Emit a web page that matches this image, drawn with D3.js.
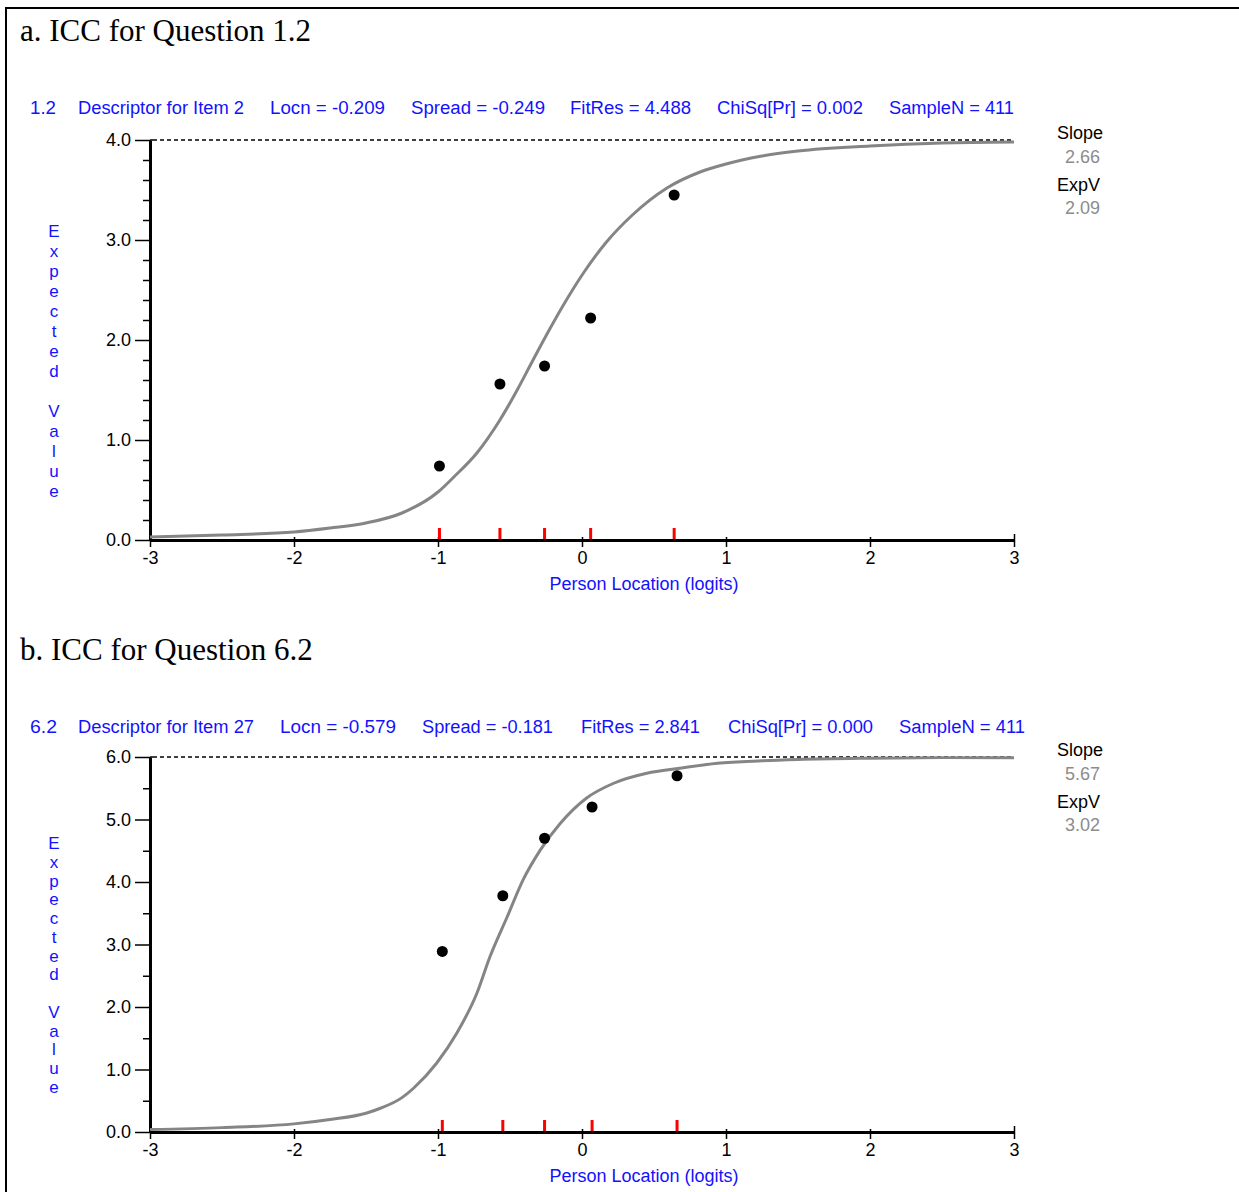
<!DOCTYPE html>
<html>
<head>
<meta charset="utf-8">
<script src="https://cdn.jsdelivr.net/npm/d3@7/dist/d3.min.js"></script>
<style>
  html, body { margin: 0; padding: 0; background: #fff; }
  svg { display: block; }
</style>
</head>
<body>
<svg id="chart" width="1239" height="1192"></svg>
<script>
// ---- shared x axis (person location, logits) ----
const xTicks = [-3, -2, -1, 0, 1, 2, 3];

// ---- panel a: item 1.2 ----
const aTitle = "a. ICC for Question 1.2";
const aHeader = ["1.2", "Descriptor for Item 2", "Locn = -0.209", "Spread = -0.249",
                 "FitRes = 4.488", "ChiSq[Pr] = 0.002", "SampleN = 411"];
const aYTicks = [0, 1, 2, 3, 4];
const aYMax = 4;
const aMinorStep = 0.2;
const aCurveX = [-3, -2.5, -2, -1.75, -1.5, -1.25, -1, -0.89, -0.73, -0.57, -0.45, -0.34,
                 -0.22, -0.1, 0.01, 0.17, 0.35, 0.59, 0.82, 1, 1.25, 1.5, 2, 2.5, 3];
const aCurveY = [0.03, 0.05, 0.08, 0.12, 0.17, 0.27, 0.48, 0.63, 0.87, 1.2, 1.5, 1.8,
                 2.12, 2.42, 2.67, 2.98, 3.25, 3.52, 3.68, 3.76, 3.84, 3.89, 3.94, 3.97, 3.98];
const aObsX = [-0.99, -0.57, -0.26, 0.06, 0.64];
const aObsY = [0.74, 1.56, 1.74, 2.22, 3.45];
const aSlope = "2.66";
const aExpV = "2.09";

// ---- panel b: item 6.2 ----
const bTitle = "b. ICC for Question 6.2";
const bHeader = ["6.2", "Descriptor for Item 27", "Locn = -0.579", "Spread = -0.181",
                 "FitRes = 2.841", "ChiSq[Pr] = 0.000", "SampleN = 411"];
const bYTicks = [0, 1, 2, 3, 4, 5, 6];
const bYMax = 6;
const bMinorStep = 0.5;
const bCurveX = [-3, -2.5, -2, -1.75, -1.5, -1.4, -1.25, -1.17, -1.01, -0.87, -0.73, -0.64,
                 -0.52, -0.41, -0.29, -0.15, 0.03, 0.22, 0.45, 0.68, 0.94, 1.25, 1.5, 2, 2.5, 3];
const bCurveY = [0.04, 0.07, 0.13, 0.2, 0.3, 0.38, 0.55, 0.7, 1.1, 1.58, 2.22, 2.8,
                 3.44, 4.03, 4.51, 4.94, 5.34, 5.58, 5.74, 5.82, 5.9, 5.94, 5.96, 5.98, 5.99, 5.99];
const bObsX = [-0.97, -0.55, -0.26, 0.07, 0.66];
const bObsY = [2.89, 3.78, 4.70, 5.20, 5.70];
const bSlope = "5.67";
const bExpV = "3.02";

// header segment widths and start positions for the caption line
const headerStartsA = [30, 78, 270, 411, 570, 717, 889];
const headerWidthsA = [26, 166, 115, 134, 121, 146, 125];
const headerStartsB = [30, 78, 280, 422, 581, 728, 899];
const headerWidthsB = [27, 176, 116, 131, 119, 145, 126];

const BLUE = "#1212ff";
const SANS = "'Liberation Sans', Arial, sans-serif";
const SERIF = "'Liberation Serif', 'Times New Roman', serif";

const svg = d3.select("#chart");

// table-cell frame (top and left rules)
svg.append("line").attr("x1", 5).attr("x2", 1239).attr("y1", 8).attr("y2", 8)
   .attr("stroke", "#000").attr("stroke-width", 2);
svg.append("line").attr("x1", 6).attr("x2", 6).attr("y1", 7).attr("y2", 1192)
   .attr("stroke", "#000").attr("stroke-width", 2);

function drawPanel(cfg) {
  const g = svg.append("g");

  // panel caption
  g.append("text").attr("x", 20).attr("y", cfg.titleY)
    .attr("font-family", SERIF).attr("font-size", 31).attr("fill", "#000")
    .text(cfg.title);

  // blue statistics header line
  cfg.header.forEach((s, i) => {
    g.append("text").attr("x", cfg.hStarts[i]).attr("y", cfg.headerY)
      .attr("font-family", SANS).attr("font-size", 18).attr("fill", BLUE)
      .attr("textLength", cfg.hWidths[i]).attr("lengthAdjust", "spacingAndGlyphs")
      .text(s);
  });

  const x = d3.scaleLinear().domain([-3, 3]).range([150, 1014]);
  const y = d3.scaleLinear().domain([0, cfg.yMax]).range([cfg.bottom, cfg.top]);

  // dashed line at the maximum expected value
  g.append("line")
    .attr("x1", x(-3) + 10).attr("x2", x(3))
    .attr("y1", y(cfg.yMax)).attr("y2", y(cfg.yMax))
    .attr("stroke", "#000").attr("stroke-width", 1.3).attr("stroke-dasharray", "4,3");

  // minor y ticks
  const minor = d3.range(0, cfg.yMax + 1e-9, cfg.minorStep)
    .filter(v => Math.abs(v - Math.round(v)) > 1e-6);
  g.append("g").attr("transform", `translate(${x(-3)},0)`)
    .call(d3.axisLeft(y).tickValues(minor).tickSize(7).tickFormat(""))
    .call(a => a.select(".domain").remove())
    .call(a => a.selectAll(".tick line").attr("stroke-width", 1.5));

  // major y ticks + labels
  const yAxis = g.append("g").attr("transform", `translate(${x(-3)},0)`)
    .call(d3.axisLeft(y).tickValues(cfg.yTicks).tickSize(15).tickSizeOuter(0)
      .tickPadding(4).tickFormat(d3.format(".1f")));
  yAxis.select(".domain").attr("stroke-width", 3);
  yAxis.selectAll(".tick line").attr("stroke-width", 1.5);
  yAxis.selectAll(".tick text").attr("font-family", SANS).attr("font-size", 18).attr("fill", "#000");
  // top tick crosses the axis
  yAxis.append("line").attr("x1", 0).attr("x2", 7)
    .attr("y1", y(cfg.yMax)).attr("y2", y(cfg.yMax))
    .attr("stroke", "#000").attr("stroke-width", 1.5);

  // x axis
  const xAxis = g.append("g").attr("transform", `translate(0,${cfg.bottom})`)
    .call(d3.axisBottom(x).tickValues(xTicks).tickSize(7).tickSizeOuter(0)
      .tickPadding(4).tickFormat(d => String(d)));
  xAxis.select(".domain").attr("stroke-width", 3);
  xAxis.selectAll(".tick line").attr("y1", -3).attr("stroke-width", 1.5);
  xAxis.selectAll(".tick").filter(d => d === 3).select("line").attr("y1", -6);
  xAxis.selectAll(".tick text").attr("font-family", SANS).attr("font-size", 18).attr("fill", "#000");

  // x axis title
  g.append("text").attr("x", 644).attr("y", cfg.bottom + 50)
    .attr("text-anchor", "middle").attr("font-family", SANS).attr("font-size", 18)
    .attr("fill", BLUE).text("Person Location (logits)");

  // stacked y axis title
  const letters = "Expected Value".split("");
  const h = cfg.bottom - cfg.top;
  const step = h / 20;
  const mid = (cfg.top + cfg.bottom) / 2 + 21;
  const first = mid - step * (letters.length - 1) / 2;
  letters.forEach((c, i) => {
    if (c === " ") return;
    g.append("text").attr("x", 54).attr("y", first + i * step)
      .attr("text-anchor", "middle").attr("dominant-baseline", "central")
      .attr("font-family", SANS).attr("font-size", 17).attr("fill", BLUE).text(c);
  });

  // red ticks at class-interval locations
  g.selectAll(".ci").data(cfg.obsX).join("line")
    .attr("x1", d => x(d)).attr("x2", d => x(d))
    .attr("y1", cfg.bottom - 12).attr("y2", cfg.bottom - 1)
    .attr("stroke", "#ff0000").attr("stroke-width", 3);

  // expected-value curve
  const pts = cfg.curveX.map((v, i) => [v, cfg.curveY[i]]);
  g.append("path").datum(pts)
    .attr("fill", "none").attr("stroke", "#858585").attr("stroke-width", 3)
    .attr("d", d3.line().x(d => x(d[0])).y(d => y(d[1])).curve(d3.curveMonotoneX));

  // observed class means
  g.selectAll(".obs").data(cfg.obsX.map((v, i) => [v, cfg.obsY[i]])).join("circle")
    .attr("cx", d => x(d[0])).attr("cy", d => y(d[1])).attr("r", 5.5).attr("fill", "#000");

  // right-hand summary
  const side = [["Slope", "#000", 1057, 0], [cfg.slope, "#8c8c8c", 1065, 24],
                ["ExpV", "#000", 1057, 52], [cfg.expV, "#8c8c8c", 1065, 75]];
  side.forEach(([t, col, sx, dy]) => {
    g.append("text").attr("x", sx).attr("y", cfg.sideY + dy)
      .attr("font-family", SANS).attr("font-size", 18).attr("fill", col).text(t);
  });
}

drawPanel({
  title: aTitle, titleY: 41, header: aHeader, headerY: 114,
  hStarts: headerStartsA, hWidths: headerWidthsA,
  top: 140, bottom: 540, yMax: aYMax, yTicks: aYTicks, minorStep: aMinorStep,
  curveX: aCurveX, curveY: aCurveY, obsX: aObsX, obsY: aObsY,
  slope: aSlope, expV: aExpV, sideY: 139
});

drawPanel({
  title: bTitle, titleY: 660, header: bHeader, headerY: 733,
  hStarts: headerStartsB, hWidths: headerWidthsB,
  top: 757, bottom: 1132, yMax: bYMax, yTicks: bYTicks, minorStep: bMinorStep,
  curveX: bCurveX, curveY: bCurveY, obsX: bObsX, obsY: bObsY,
  slope: bSlope, expV: bExpV, sideY: 756
});
</script>
</body>
</html>
